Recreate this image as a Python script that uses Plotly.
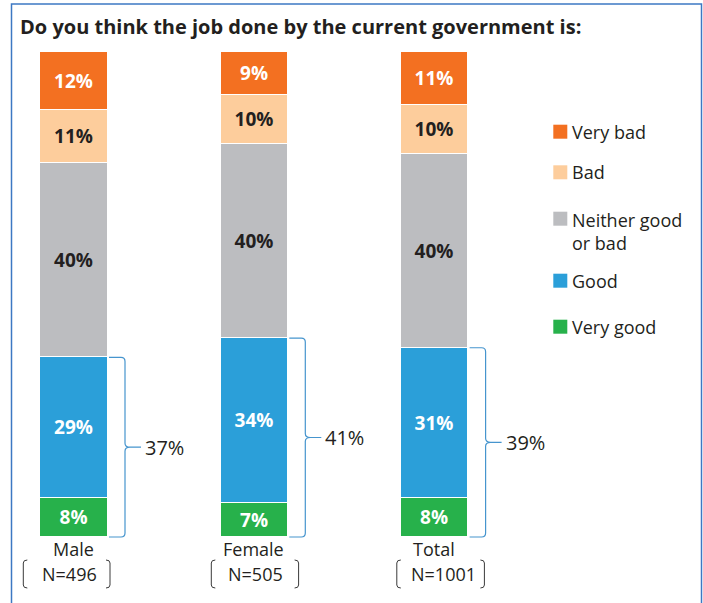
import plotly.graph_objects as go

# Survey results: opinion of the current government's job, by gender
categories = ["Male", "Female", "Total"]
sample_sizes = ["N=496", "N=505", "N=1001"]

very_good = [8, 7, 8]
good = [29, 34, 31]
neither = [40, 40, 40]
bad = [11, 10, 10]
very_bad = [12, 9, 11]

series = [
    ("Very good", very_good, "#27B14B", "white"),
    ("Good", good, "#2B9FD9", "white"),
    ("Neither good<br>or bad", neither, "#BCBDC0", "#231F20"),
    ("Bad", bad, "#FDCD9C", "#231F20"),
    ("Very bad", very_bad, "#F37021", "white"),
]

W, H = 703, 603
FONT = "Open Sans"
DARK = "#231F20"
BRACE = "#4695CE"

# pixel scale of the axes (x: px per category step, y: px per percentage point)
X_STEP = 180.3
Y_UNIT = 4.853
x_pos = list(range(len(categories)))


def px_x(px):
    return px / W


def px_y(py):
    return 1 - py / H


fig = go.Figure()

for name, vals, color, txtcolor in series:
    fig.add_trace(go.Bar(
        x=x_pos, y=vals, name=name,
        marker=dict(color=color, line=dict(color="white", width=1)),
        width=0.374,
        text=[f"{v}%" for v in vals],
        textposition="inside",
        insidetextanchor="middle",
        textangle=0,
        constraintext="none",
        textfont=dict(family=FONT, size=19, color=txtcolor, weight="bold"),
        showlegend=False,
        hoverinfo="skip",
    ))

shapes = []
annotations = []

# Braces grouping Good + Very good, with the combined share
for i, (vg, g) in enumerate(zip(very_good, good)):
    total = vg + g
    x0 = i + 35 / X_STEP
    xh = i + 47 / X_STEP
    xv = i + 51 / X_STEP
    xm = i + 56 / X_STEP
    xt = i + 67 / X_STEP
    ry = 4 / Y_UNIT
    top, bot, mid = total, 0, total / 2
    path = (
        f"M{x0},{top} L{xh},{top} Q{xv},{top} {xv},{top - ry} "
        f"L{xv},{mid + ry} Q{xv},{mid} {xm},{mid} L{xt},{mid} "
        f"M{xm},{mid} Q{xv},{mid} {xv},{mid - ry} "
        f"L{xv},{bot + ry} Q{xv},{bot} {xh},{bot} L{x0},{bot}"
    )
    shapes.append(dict(type="path", xref="x", yref="y", path=path,
                       line=dict(color=BRACE, width=1.2)))
    annotations.append(dict(
        x=i + 69 / X_STEP, y=mid, xref="x", yref="y",
        text=f"{total}%", showarrow=False, xanchor="left", yanchor="middle",
        font=dict(family=FONT, size=20, color=DARK),
    ))

# Category names and sample sizes in brackets
n_shift = [-4.3, 1.2, 9.2]
bracket_offsets = [(-50.7, 36.0), (-43.0, 44.3), (-37.8, 49.8)]
for i, (cat, n) in enumerate(zip(categories, sample_sizes)):
    annotations.append(dict(
        x=i - 1 / X_STEP, y=px_y(549), xref="x", yref="paper", text=cat,
        showarrow=False, xanchor="center", yanchor="middle",
        font=dict(family=FONT, size=18, color=DARK),
    ))
    annotations.append(dict(
        x=i + n_shift[i] / X_STEP, y=px_y(574), xref="x", yref="paper", text=n,
        showarrow=False, xanchor="center", yanchor="middle",
        font=dict(family=FONT, size=18, color=DARK),
    ))
    lo, hi = bracket_offsets[i]
    yt, yb = px_y(560), px_y(588)
    yt2, yb2 = px_y(563), px_y(585)
    for off, hook in ((lo, 4), (hi, -4)):
        xa = i + off / X_STEP
        xb = i + (off + hook) / X_STEP
        path = (f"M{xb},{yt} Q{xa},{yt} {xa},{yt2} L{xa},{yb2} "
                f"Q{xa},{yb} {xb},{yb}")
        shapes.append(dict(type="path", xref="x", yref="paper", path=path,
                           line=dict(color="#3A3A3A", width=1)))

# Legend, top to bottom
legend_rows = [
    ("Very bad", "#F37021", 131.7),
    ("Bad", "#FDCD9C", 172.3),
    ("Neither good<br>or bad", "#BCBDC0", 218.7),
    ("Good", "#2B9FD9", 280.7),
    ("Very good", "#27B14B", 326.7),
]
for label, color, cy in legend_rows:
    shapes.append(dict(
        type="rect", xref="paper", yref="paper",
        x0=px_x(553.3), x1=px_x(567.3), y0=px_y(cy - 7), y1=px_y(cy + 7),
        fillcolor=color, line=dict(width=0),
    ))
    multiline = "<br>" in label
    annotations.append(dict(
        x=px_x(569.5), y=px_y(cy - 12.5 if multiline else cy), xref="paper", yref="paper",
        text=label, showarrow=False, xanchor="left",
        yanchor="top" if multiline else "middle", align="left",
        font=dict(family=FONT, size=18, color=DARK),
    ))

# Title
annotations.append(dict(
    x=px_x(18), y=px_y(26), xref="paper", yref="paper",
    text="<b>Do you think the job done by the current government is:</b>",
    showarrow=False, xanchor="left", yanchor="middle",
    font=dict(family=FONT, size=20, color=DARK),
))

# Frame around the chart
shapes.append(dict(
    type="rect", xref="paper", yref="paper",
    x0=px_x(11.5), x1=px_x(701.5), y0=px_y(4), y1=-0.05,
    line=dict(color="#3C78C3", width=1.5), fillcolor="rgba(0,0,0,0)",
))

fig.update_layout(
    width=W, height=H,
    margin=dict(l=0, r=0, t=0, b=0),
    barmode="stack",
    bargap=0,
    plot_bgcolor="white",
    paper_bgcolor="white",
    xaxis=dict(range=[-74 / X_STEP, (W - 74) / X_STEP], visible=False, fixedrange=True),
    yaxis=dict(range=[-(H - 537) / Y_UNIT, 537 / Y_UNIT], visible=False, fixedrange=True),
    shapes=shapes,
    annotations=annotations,
    showlegend=False,
)

fig.write_html("out.html")
